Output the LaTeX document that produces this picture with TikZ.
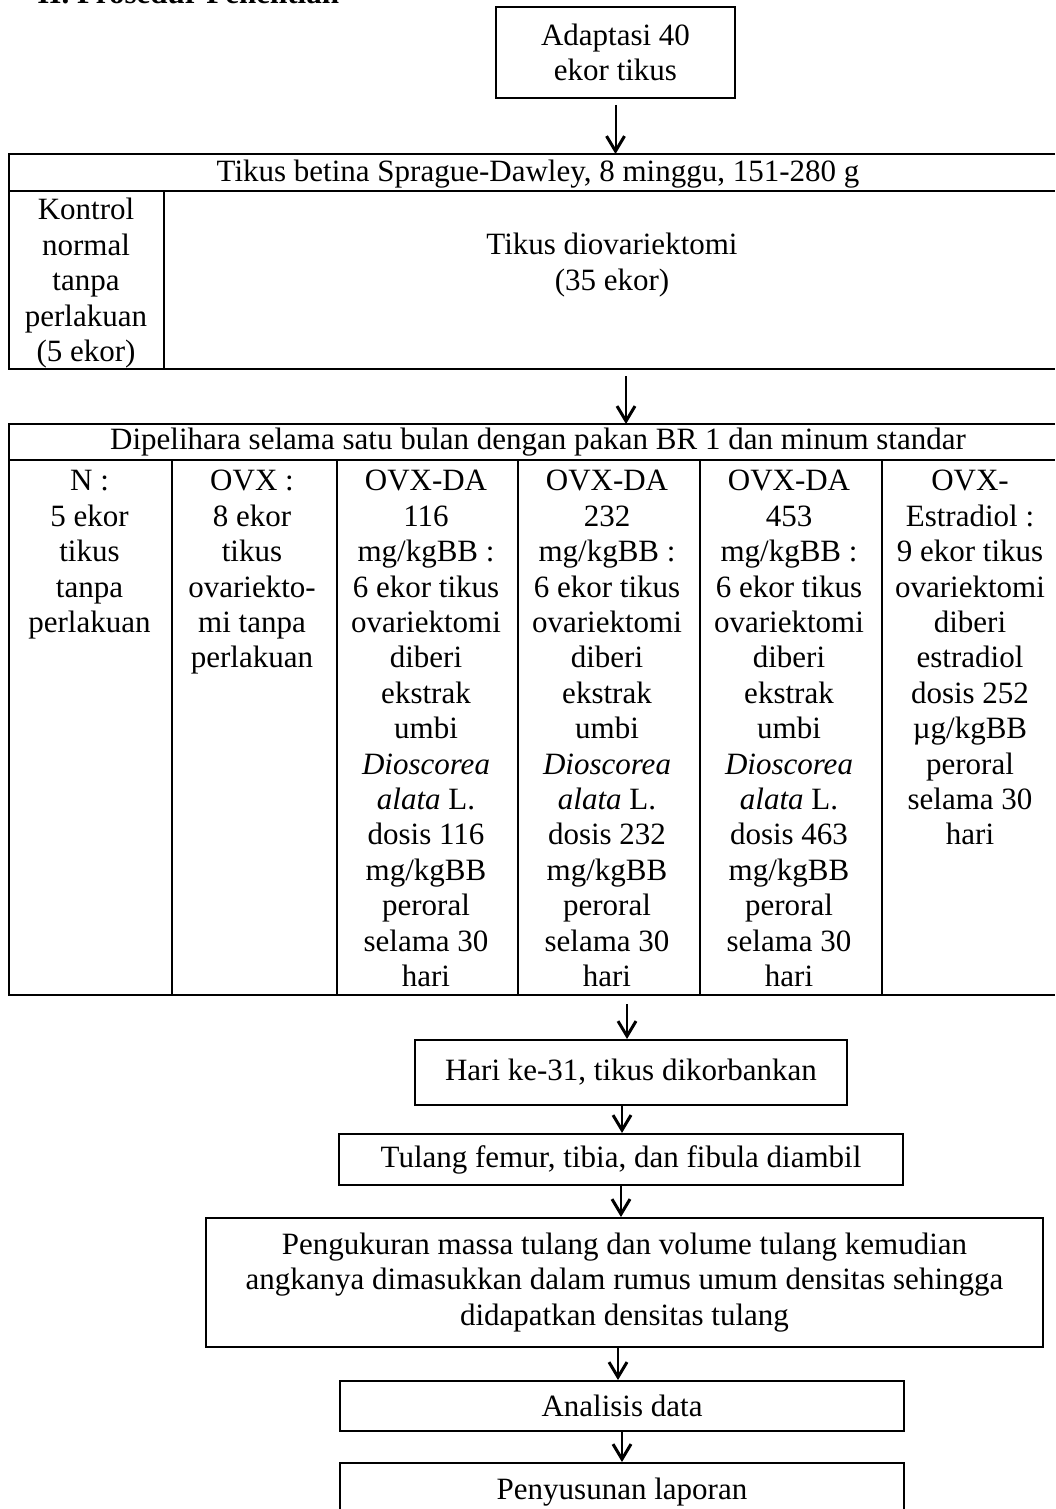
\documentclass[tikz,border=0pt]{standalone}
\usepackage{fontspec}
\setmainfont{Liberation Serif}
\usetikzlibrary{arrows.meta}
\newcommand{\mytxt}{\fontsize{15.5}{17.7}\selectfont}
\begin{document}
\begin{tikzpicture}[x=0.5pt,y=-0.5pt,
  box/.style={draw, line width=1pt, inner sep=0pt, align=center, font=\mytxt},
  txt/.style={align=center, inner sep=0pt, font=\mytxt},
  arr/.style={line width=1pt, -{Straight Barb[length=7.5pt,width=9pt,line width=1.5pt]}},
  rule/.style={line width=1pt}]
\useasboundingbox (0,0) rectangle (1055,1509);
\fill[white] (0,0) rectangle (1055,1509);

% title (cut off at the top)
\node[anchor=base west, inner sep=0pt, font=\fontsize{15.5}{17.7}\selectfont\bfseries] (title) at (37,4) {II. Prosedur Penelitian};

% first box
\node[box, minimum width=119.5pt, minimum height=45.5pt] (adapt) at (615.5,52.5) {Adaptasi 40\\ekor tikus};

% table 1
\coordinate (t1top) at (615.5,154);
\coordinate (t1bot) at (626,369);
\draw[rule] (1055,154) -- (9,154) -- (9,369) -- (1055,369);
\draw[rule] (9,191) -- (1055,191);
\draw[rule] (163.5,191) -- (163.5,369);
\node[txt] (t1h) at (538,174) {Tikus betina Sprague-Dawley, 8 minggu, 151-280 g};
\node[txt] (kontrol) at (86,283.7) {\strut Kontrol\\normal\\tanpa\\perlakuan\\(5 ekor)\strut};
\node[txt] (ovx35) at (612,265.6) {\strut Tikus diovariektomi\\(35 ekor)\strut};

% table 2
\coordinate (t2top) at (626,424);
\coordinate (t2bot) at (627,995);
\draw[rule] (1055,424) -- (9,424) -- (9,995) -- (1055,995);
\draw[rule] (9,460) -- (1055,460);
\foreach \x in {172,336.5,518,700,881.5} \draw[rule] (\x,460) -- (\x,995);
\node[txt] (t2h) at (538,442) {Dipelihara selama satu bulan dengan pakan BR 1 dan minum standar};
\node[txt] (cN) at (89.5,554.7) {\strut N :\\5 ekor\\tikus\\tanpa\\perlakuan\strut};
\node[txt] (cOVX) at (252,572.4) {\strut OVX :\\8 ekor\\tikus\\ovariekto-\\mi tanpa\\perlakuan\strut};
\node[txt] (cDA1) at (426,731.7) {\strut OVX-DA\\116\\mg/kgBB :\\6 ekor tikus\\ovariektomi\\diberi\\ekstrak\\umbi\\\textit{Dioscorea}\\\textit{alata} L.\\dosis 116\\mg/kgBB\\peroral\\selama 30\\hari\strut};
\node[txt] (cDA2) at (607,731.7) {\strut OVX-DA\\232\\mg/kgBB :\\6 ekor tikus\\ovariektomi\\diberi\\ekstrak\\umbi\\\textit{Dioscorea}\\\textit{alata} L.\\dosis 232\\mg/kgBB\\peroral\\selama 30\\hari\strut};
\node[txt] (cDA3) at (789,731.7) {\strut OVX-DA\\453\\mg/kgBB :\\6 ekor tikus\\ovariektomi\\diberi\\ekstrak\\umbi\\\textit{Dioscorea}\\\textit{alata} L.\\dosis 463\\mg/kgBB\\peroral\\selama 30\\hari\strut};
\node[txt] (cE) at (970,660.9) {\strut OVX-\\Estradiol :\\9 ekor tikus\\ovariektomi\\diberi\\estradiol\\dosis 252\\µg/kgBB\\peroral\\selama 30\\hari\strut};

% lower boxes
\node[box, minimum width=216pt, minimum height=32.5pt] (hari) at (631,1072.5) {Hari ke-31, tikus dikorbankan};
\node[box, minimum width=282pt, minimum height=25.5pt] (tulang) at (621,1159.5) {Tulang femur, tibia, dan fibula diambil};
\node[box, minimum width=418.5pt, minimum height=64.5pt] (peng) at (624.5,1282.5) {Pengukuran massa tulang dan volume tulang kemudian\\angkanya dimasukkan dalam rumus umum densitas sehingga\\didapatkan densitas tulang};
\node[box, minimum width=282pt, minimum height=25pt] (anal) at (622,1406) {Analisis data};
\node[box, minimum width=282pt, minimum height=29pt] (lap) at (622,1492) {Penyusunan laporan};

% connectors
\draw[arr] ([yshift=-3pt]adapt.south) -- (adapt.south |- t1top);
\draw[arr] ([yshift=-3.5pt]t1bot) -- (t2top);
\draw[arr] ([yshift=-4.5pt]t2bot) -- (t2bot |- hari.north);
\coordinate (a4) at (622,1105);
\draw[arr] (a4) -- (a4 |- tulang.north);
\draw[arr] (tulang.south) -- (tulang.south |- peng.north);
\coordinate (a6) at (618,1347);
\draw[arr] (a6) -- (a6 |- anal.north);
\draw[arr] (anal.south) -- (anal.south |- lap.north);
\end{tikzpicture}
\end{document}
